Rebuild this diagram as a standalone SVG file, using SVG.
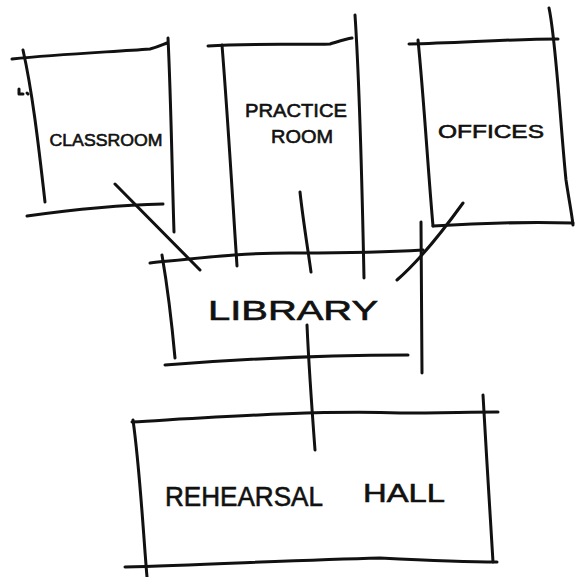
<svg xmlns="http://www.w3.org/2000/svg" width="576" height="577" viewBox="0 0 576 577">
  <style>
    .ink { fill: none; stroke: #111; stroke-width: 3; stroke-linecap: round; stroke-linejoin: round; }
    .lbl { font-family: "Liberation Sans", "DejaVu Sans", sans-serif; fill: #111; stroke: #111; stroke-width: 0.6; text-anchor: middle; }
  </style>
  <rect width="576" height="577" fill="#fff"/>

  <!-- rooms, drawn as sketchy overlapping strokes -->
  <g id="classroom">
    <path class="ink" d="M12,59 C60,54 110,52 150,49 C158,47 162,45 167,43"/>
    <path class="ink" d="M23,50 C32,90 38,140 45,202"/>
    <path class="ink" d="M168,38 C171,100 172,170 174,232"/>
    <path class="ink" d="M27,216 C70,210 120,205 163,204"/>
    <path class="ink" d="M19,89 L19,94 L23,94" stroke-width="2"/>
    <path class="ink" d="M27,93 L28,94" stroke-width="2"/>
    <text class="lbl" x="106" y="146" font-size="17" textLength="113" lengthAdjust="spacingAndGlyphs">CLASSROOM</text>
  </g>

  <g id="practice-room">
    <path class="ink" d="M208,46 C250,43 300,45 330,44 C340,41 346,39 352,38"/>
    <path class="ink" d="M222,45 C228,120 232,190 237,266"/>
    <path class="ink" d="M355,15 C360,90 362,180 364,278"/>
    <text class="lbl" x="296" y="117" font-size="19" textLength="102" lengthAdjust="spacingAndGlyphs">PRACTICE</text>
    <text class="lbl" x="302" y="143" font-size="19" textLength="62" lengthAdjust="spacingAndGlyphs">ROOM</text>
  </g>

  <g id="offices">
    <path class="ink" d="M409,44 C460,43 510,39 558,39"/>
    <path class="ink" d="M418,40 C424,100 428,170 433,226"/>
    <path class="ink" d="M549,8 C556,40 560,120 566,180 C569,200 572,215 573,225"/>
    <path class="ink" d="M433,226 C480,223 530,222 573,223"/>
    <text class="lbl" x="491" y="138" font-size="19" textLength="106" lengthAdjust="spacingAndGlyphs">OFFICES</text>
  </g>

  <g id="library">
    <path class="ink" d="M150,263 C200,258 250,252 300,253 C350,253 390,252 423,250"/>
    <path class="ink" d="M162,255 C168,290 172,325 175,358"/>
    <path class="ink" d="M421,222 C421,280 422,330 422,373"/>
    <path class="ink" d="M165,365 C230,360 320,355 408,355"/>
    <text class="lbl" x="293" y="320" font-size="27" textLength="170" lengthAdjust="spacingAndGlyphs">LIBRARY</text>
  </g>

  <g id="rehearsal-hall">
    <path class="ink" d="M132,422 C220,417 320,410 400,413 C440,413 470,412 498,412"/>
    <path class="ink" d="M133,420 C140,470 143,530 147,577"/>
    <path class="ink" d="M483,395 C486,450 490,510 493,562"/>
    <path class="ink" d="M125,567 C200,565 300,560 380,558 C420,560 460,562 497,562"/>
    <text class="lbl" x="244" y="506" font-size="28" textLength="158" lengthAdjust="spacingAndGlyphs">REHEARSAL</text>
    <text class="lbl" x="404" y="502" font-size="26" textLength="82" lengthAdjust="spacingAndGlyphs">HALL</text>
  </g>

  <!-- links between rooms -->
  <g id="connectors">
    <path class="ink" d="M115,184 L200,270"/>
    <path class="ink" d="M300,192 C303,220 308,250 311,272"/>
    <path class="ink" d="M463,203 C445,228 420,260 397,280"/>
    <path class="ink" d="M307,325 C309,370 312,410 315,450"/>
  </g>
</svg>
